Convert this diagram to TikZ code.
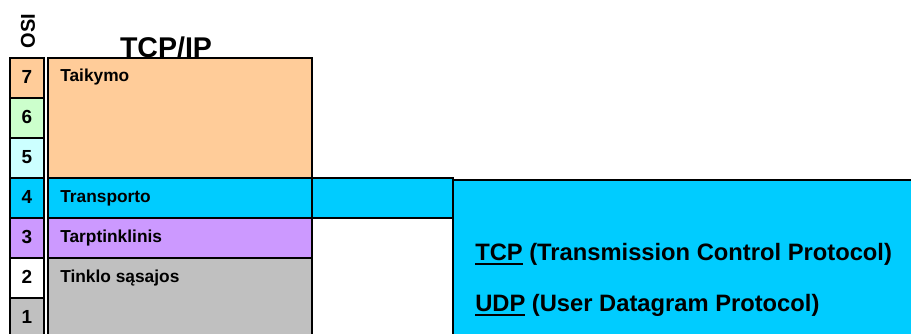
\documentclass[tikz,border=0pt]{standalone}
\usepackage{fontspec}
\setmainfont{Liberation Sans}
\definecolor{appcol}{HTML}{FFCC99}
\definecolor{prescol}{HTML}{CCFFCC}
\definecolor{sesscol}{HTML}{CCFFFF}
\definecolor{transcol}{HTML}{00CCFF}
\definecolor{netcol}{HTML}{CC99FF}
\definecolor{linkcol}{HTML}{C0C0C0}
% bold text with a thick rule under it
\newcommand\ulword[1]{\leavevmode\setbox0\hbox{#1}\rlap{\rule[-3.6pt]{\wd0}{1.5pt}}\box0\relax}
\begin{document}
\begin{tikzpicture}[x=0.75pt,y=-0.75pt,
  layer/.style={draw=black,line width=1.1pt},
  osinum/.style={anchor=base,inner sep=0pt,font=\bfseries\fontsize{14.2}{16}\selectfont},
  lbl/.style={anchor=base west,inner sep=0pt,font=\bfseries\fontsize{13}{15}\selectfont},
  proto/.style={anchor=base west,inner sep=0pt,font=\bfseries\fontsize{17.8}{20}\selectfont}]
\useasboundingbox (0,0) rectangle (911,333);
\clip (0,0) rectangle (911,333);

% OSI column
\draw[layer,fill=appcol]   (10,58)  rectangle (44,98);
\draw[layer,fill=prescol]  (10,98)  rectangle (44,138);
\draw[layer,fill=sesscol]  (10,138) rectangle (44,178);
\draw[layer,fill=transcol] (10,178) rectangle (44,218);
\draw[layer,fill=netcol]   (10,218) rectangle (44,258);
\draw[layer,fill=white]    (10,258) rectangle (44,298);
\draw[layer,fill=linkcol]  (10,298) rectangle (44,345);
\node[osinum] (n7) at (27,83)  {7};
\node[osinum] (n6) at (27,123) {6};
\node[osinum] (n5) at (27,163) {5};
\node[osinum] (n4) at (27,203) {4};
\node[osinum] (n3) at (27,243) {3};
\node[osinum] (n2) at (27,283) {2};
\node[osinum] (n1) at (27,323) {1};

% TCP/IP column
\draw[layer,fill=appcol]   (48,58)  rectangle (312,178);
\draw[layer,fill=transcol] (48,178) rectangle (312,218);
\draw[layer,fill=netcol]   (48,218) rectangle (312,258);
\draw[layer,fill=linkcol]  (48,258) rectangle (312,345);
\node[lbl] (app)   at (60,81)  {Taikymo};
\node[lbl] (trans) at (60,202) {Transporto};
\node[lbl] (net)   at (60,242) {Tarptinklinis};
\node[lbl] (link)  at (60,282) {Tinklo sąsajos};

% transport layer widened into the protocol box
\draw[layer,fill=transcol] (312,178) rectangle (453,218);
\draw[layer,fill=transcol] (453,180) rectangle (925,345);
\node[proto] (tcp) at (475,260) {\ulword{TCP} (Transmission Control Protocol)};
\node[proto] (udp) at (475,311) {\ulword{UDP} (User Datagram Protocol)};

% headings
\node[inner sep=0pt,anchor=base,font=\bfseries\fontsize{21.4}{24}\selectfont] (tcpip) at (166,57) {TCP/IP};
\node[inner sep=0pt,rotate=90,font=\bfseries\fontsize{15}{17}\selectfont] (osi) at (28,31) {OSI};
\end{tikzpicture}
\end{document}
